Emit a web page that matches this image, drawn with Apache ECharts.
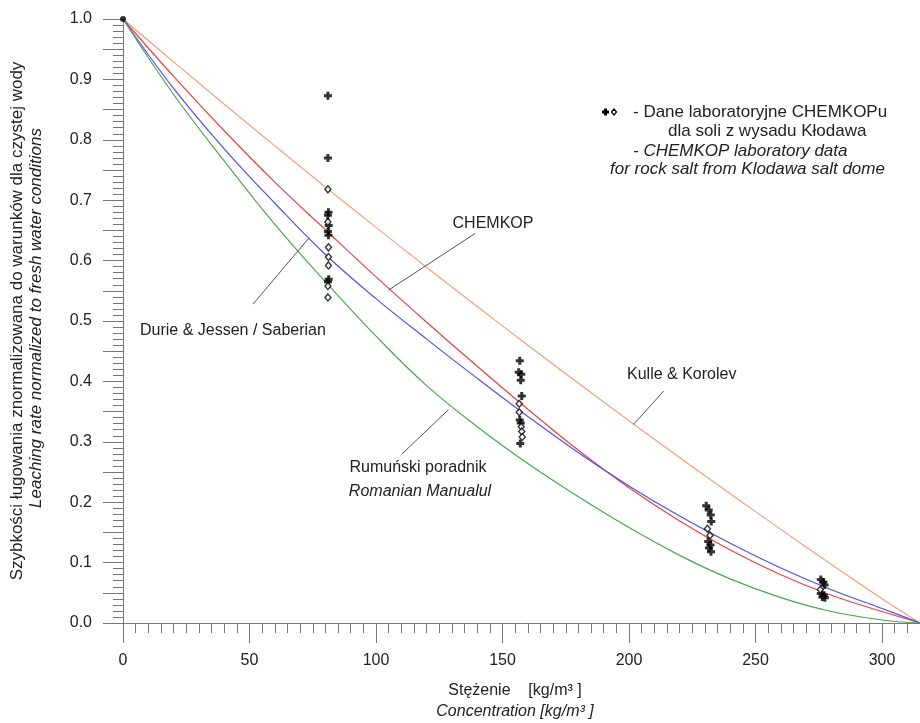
<!DOCTYPE html>
<html>
<head>
<meta charset="utf-8">
<script src="https://cdn.jsdelivr.net/npm/echarts@6/dist/echarts.min.js"></script>
<style>
html, body { margin: 0; padding: 0; background: #fff; }
#chart { width: 920px; height: 723px; }
</style>
</head>
<body>
<div id="chart"></div>
<script>
// concentration points used for the model curves [kg/m3]
var conc = [0, 20, 40, 60, 80, 100, 120, 140, 160, 180, 200, 220, 240, 260, 280, 300, 315];
// normalised leaching rate
var kulleKorolev = [1.0, 0.929, 0.859, 0.790, 0.722, 0.655, 0.589, 0.524, 0.460, 0.397, 0.335, 0.274, 0.214, 0.155, 0.097, 0.040, 0.0];
var chemkop      = [1.0, 0.905, 0.815, 0.730, 0.651, 0.573, 0.498, 0.425, 0.354, 0.286, 0.224, 0.169, 0.121, 0.080, 0.046, 0.019, 0.0];
var durieJessen  = [1.0, 0.885, 0.785, 0.695, 0.610, 0.537, 0.470, 0.405, 0.342, 0.282, 0.227, 0.177, 0.132, 0.091, 0.055, 0.024, 0.0];
var rumunski     = [1.0, 0.875, 0.765, 0.660, 0.565, 0.475, 0.393, 0.325, 0.264, 0.209, 0.158, 0.112, 0.073, 0.042, 0.019, 0.005, 0.0];

// CHEMKOP laboratory data [concentration, rate]
var labPlus = [
  [81, 0.873], [81, 0.770], [81.2, 0.680], [81, 0.675], [81.3, 0.658], [81, 0.648], [81.2, 0.642], [81.3, 0.569], [81, 0.565],
  [156.8, 0.434], [156.4, 0.415], [157.4, 0.412], [157.2, 0.402], [157.6, 0.376], [156.8, 0.336], [157.2, 0.331], [157, 0.297],
  [230.5, 0.194], [231.5, 0.187], [232.3, 0.179], [232.5, 0.168], [231.3, 0.135], [232.2, 0.129], [231.6, 0.124], [232.4, 0.118],
  [275.8, 0.072], [276.8, 0.068], [277.3, 0.063], [275.8, 0.049], [277.0, 0.046], [276.4, 0.043], [277.4, 0.042]
];
var labDiamond = [
  [81, 0.718], [81, 0.664], [81.2, 0.622], [81.2, 0.606], [81.2, 0.592], [81, 0.558], [81, 0.539],
  [156.6, 0.363], [156.6, 0.349], [157.4, 0.325], [157.6, 0.317], [157.8, 0.308],
  [231, 0.156], [232, 0.145],
  [275.6, 0.055]
];
var startPoint = [[0, 1.0]];

var xTickLabels = [0, 50, 100, 150, 200, 250, 300];

// annotation pointer lines in data coordinates
var pointers = [
  [[104.9, 0.551], [139.2, 0.645]],
  [[51.4, 0.528], [73.6, 0.638]],
  [[201.8, 0.329], [213.7, 0.384]],
  [[110.3, 0.280], [128.6, 0.353]]
];

var font = '"Liberation Sans", Arial, sans-serif';
var textColor = '#222';

function pairs(ys) {
  return conc.map(function (c, i) { return [c, ys[i]]; });
}

function curve(name, ys, color) {
  return {
    name: name,
    type: 'line',
    data: pairs(ys),
    smooth: 0.4,
    symbol: 'none',
    lineStyle: { color: color, width: 1.2 },
    z: 2
  };
}

function label(x, y, text, italic, align, size) {
  return {
    type: 'text',
    x: x,
    y: y,
    style: {
      text: text,
      font: (italic ? 'italic ' : '') + (size || 16) + 'px ' + font,
      fill: textColor,
      align: align || 'left',
      verticalAlign: 'middle'
    }
  };
}

var chart = echarts.init(document.getElementById('chart'));

chart.setOption({
  animation: false,
  backgroundColor: '#fff',
  grid: { left: 123, right: 0, top: 19, bottom: 100 },
  xAxis: [
    {
      type: 'value',
      min: 0,
      max: 315,
      interval: 50,
      axisLine: { show: true, onZero: false, lineStyle: { color: '#777', width: 1 } },
      axisTick: { show: true, inside: false, length: 20, lineStyle: { color: '#777' }, customValues: xTickLabels },
      axisLabel: {
        customValues: xTickLabels,
        margin: 30,
        fontSize: 16,
        fontFamily: font,
        color: textColor
      },
      splitLine: { show: false }
    },
    {
      type: 'value',
      min: 0,
      max: 315,
      interval: 5,
      position: 'bottom',
      axisLine: { show: false },
      axisTick: { show: true, length: 10, lineStyle: { color: '#777' } },
      axisLabel: { show: false },
      splitLine: { show: false }
    }
  ],
  yAxis: {
    type: 'value',
    min: 0,
    max: 1,
    interval: 0.05,
    axisLine: { show: true, lineStyle: { color: '#777', width: 1 } },
    axisTick: { show: true, length: 20, lineStyle: { color: '#777' } },
    minorTick: { show: true, splitNumber: 5, length: 10, lineStyle: { color: '#777' } },
    axisLabel: {
      margin: 31,
      fontSize: 16,
      fontFamily: font,
      color: textColor,
      formatter: function (v) {
        return Math.round(v * 100) % 10 === 0 ? v.toFixed(1) : '';
      }
    },
    splitLine: { show: false }
  },
  series: [
    curve('Kulle & Korolev', kulleKorolev, '#f4a07e'),
    curve('CHEMKOP', chemkop, '#e8433e'),
    curve('Durie & Jessen / Saberian', durieJessen, '#5050f0'),
    curve('Rumuński poradnik', rumunski, '#4ea64e'),
    {
      name: 'lab +',
      type: 'scatter',
      data: labPlus,
      symbol: 'path://M2.5,0H5.5V2.5H8V5.5H5.5V8H2.5V5.5H0V2.5H2.5Z',
      symbolSize: 8,
      itemStyle: { color: '#000' },
      z: 4
    },
    {
      name: 'lab diamond',
      type: 'scatter',
      data: labDiamond,
      symbol: 'diamond',
      symbolSize: [6, 7],
      itemStyle: { color: '#fff', borderColor: '#000', borderWidth: 1.4 },
      z: 4
    },
    {
      name: 'start',
      type: 'scatter',
      data: startPoint,
      symbol: 'circle',
      symbolSize: 6,
      itemStyle: { color: '#000' },
      z: 5,
      markLine: {
        silent: true,
        symbol: 'none',
        label: { show: false },
        lineStyle: { color: '#555', width: 1, type: 'solid' },
        data: pointers.map(function (p) {
          return [{ coord: p[0] }, { coord: p[1] }];
        })
      }
    }
  ],
  graphic: [
    label(493, 224, 'CHEMKOP', false, 'center'),
    label(140, 331, 'Durie & Jessen / Saberian', false, 'left'),
    label(627, 375, 'Kulle & Korolev', false, 'left'),
    label(418, 468, 'Rumuński poradnik', false, 'center'),
    label(420, 492, 'Romanian Manualul', true, 'center'),
    label(633, 112, '- Dane laboratoryjne CHEMKOPu', false, 'left', 17),
    label(668, 131, 'dla soli z wysadu Kłodawa', false, 'left', 17),
    label(633, 151, '- CHEMKOP laboratory data', true, 'left', 17),
    label(610, 169, 'for rock salt from Klodawa salt dome', true, 'left', 17),
    // legend markers
    { type: 'rect', shape: { x: 602, y: 110.5, width: 7, height: 3 }, style: { fill: '#000' } },
    { type: 'rect', shape: { x: 604, y: 108.5, width: 3, height: 7 }, style: { fill: '#000' } },
    {
      type: 'polygon',
      shape: { points: [[614, 109], [616.5, 112], [614, 115], [611.5, 112]] },
      style: { fill: '#fff', stroke: '#000', lineWidth: 1.2 }
    },
    // axis titles
    label(515, 691, 'Stężenie    [kg/m³ ]', false, 'center'),
    label(515, 712, 'Concentration [kg/m³ ]', true, 'center'),
    {
      type: 'text',
      x: 17,
      y: 321,
      rotation: Math.PI / 2,
      style: {
        text: 'Szybkości ługowania znormalizowana do warunków dla czystej wody',
        font: '17px ' + font,
        fill: textColor,
        align: 'center',
        verticalAlign: 'middle'
      }
    },
    {
      type: 'text',
      x: 36,
      y: 318,
      rotation: Math.PI / 2,
      style: {
        text: 'Leaching rate normalized to fresh water conditions',
        font: 'italic 17px ' + font,
        fill: textColor,
        align: 'center',
        verticalAlign: 'middle'
      }
    }
  ]
});
</script>
</body>
</html>
